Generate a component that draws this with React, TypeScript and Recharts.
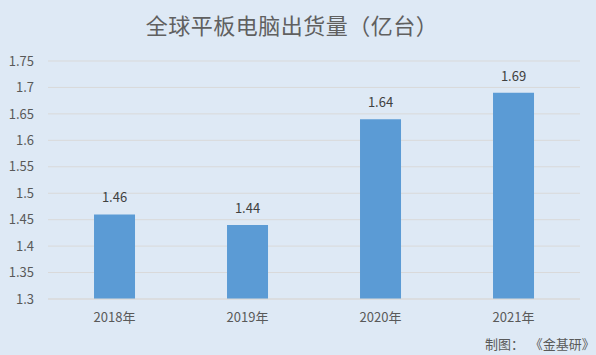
import React from "react";
import { BarChart, Bar, XAxis, YAxis, CartesianGrid, LabelList } from "recharts";

const categories = ["2018年", "2019年", "2020年", "2021年"];
const shipments = [1.46, 1.44, 1.64, 1.69];
const yTicks = [1.3, 1.35, 1.4, 1.45, 1.5, 1.55, 1.6, 1.65, 1.7, 1.75];
const title = "全球平板电脑出货量（亿台）";
const source = "制图：  《金基研》";

const data = categories.map((c, i) => ({ name: c, value: shipments[i] }));

const FONT = "'Noto Sans CJK SC', 'Noto Sans', sans-serif";

export default function App() {
  return (
    <div
      style={{
        position: "absolute",
        left: 0,
        top: 0,
        width: 596,
        height: 355,
        background: "#dee9f5",
        fontFamily: FONT,
        overflow: "hidden",
      }}
    >
      <div
        style={{
          position: "absolute",
          left: 0,
          top: 8,
          width: 584,
          textAlign: "center",
          fontSize: 22,
          lineHeight: "32px",
          color: "#606060",
          letterSpacing: 0.5,
        }}
      >
        {title}
      </div>
      <BarChart
        width={596}
        height={355}
        data={data}
        margin={{ top: 61, right: 16, bottom: 26, left: 0 }}
        barCategoryGap="34.6%"
      >
        <CartesianGrid vertical={false} stroke="#d9d9d9" />
        <XAxis
          dataKey="name"
          height={30}
          axisLine={{ stroke: "#d9d9d9" }}
          tickLine={false}
          tickSize={6}
          tickMargin={8}
          tick={{ fill: "#595959", fontSize: 13, fontFamily: FONT }}
        />
        <YAxis
          width={48}
          domain={[1.3, 1.75]}
          ticks={yTicks}
          axisLine={false}
          tickLine={false}
          tickSize={6}
          tickMargin={8}
          interval={0}
          tick={{ fill: "#595959", fontSize: 13, fontFamily: FONT }}
        />
        <Bar dataKey="value" fill="#5b9bd5" isAnimationActive={false}>
          <LabelList
            dataKey="value"
            position="top"
            offset={12}
            style={{ fill: "#404040", fontSize: 13, fontFamily: FONT }}
          />
        </Bar>
      </BarChart>
      <div
        style={{
          position: "absolute",
          left: 485,
          top: 334,
          fontSize: 13,
          lineHeight: "20px",
          color: "#595959",
          whiteSpace: "pre",
        }}
      >
        {source}
      </div>
    </div>
  );
}
